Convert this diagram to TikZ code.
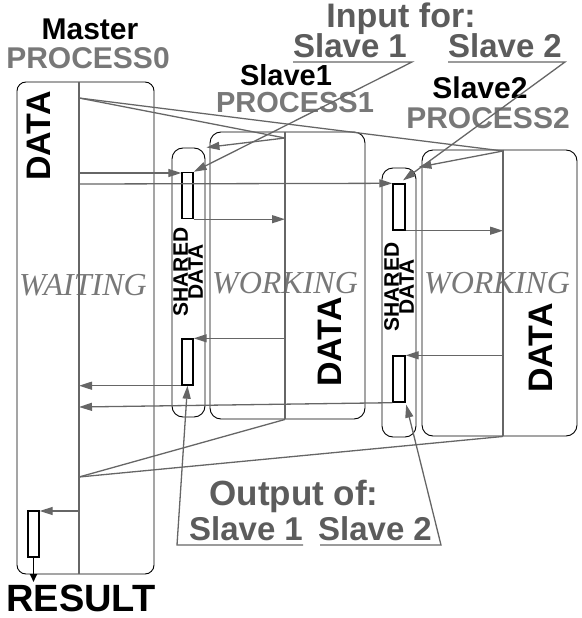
\documentclass[tikz,border=0pt]{standalone}
\usepackage{fontspec}
\setmainfont{Liberation Serif}
\setsansfont{Liberation Sans}
\usetikzlibrary{arrows.meta}

\definecolor{wire}{gray}{0.40}
\definecolor{proc}{gray}{0.47}
\definecolor{note}{gray}{0.36}

\begin{document}
\begin{tikzpicture}[x=1pt,y=-1pt,
  box/.style={draw,line width=0.9pt,inner sep=0pt},
  buf/.style={draw,fill=white,line width=1.4pt,inner sep=0pt,minimum width=11pt,minimum height=46pt},
  wire/.style={draw=wire,line width=1.3pt},
  arr/.style={wire,-{Triangle[length=13pt,width=8pt]}},
  txt/.style={inner sep=0pt,anchor=base,font=\sffamily\bfseries\fontsize{#1}{#1}\selectfont},
  state/.style={inner sep=0pt,anchor=base,text=proc,font=\itshape\fontsize{32}{32}\selectfont},
  bigdata/.style={inner sep=0pt,rotate=90,font=\sffamily\bfseries\fontsize{34}{34}\selectfont},
  shared/.style={inner sep=0pt,rotate=90,align=center,font=\sffamily\bfseries\fontsize{21}{15}\selectfont}]
\useasboundingbox (0,0) rectangle (581,618);

% master
\node[box,rounded corners=9pt,minimum width=137pt,minimum height=492pt] (master) at (85.5,328) {};
\node[txt=30] at (90,40) {Master};
\node[txt=30,text=proc] at (88,69) {PROCESS0};
\node[bigdata] at (38.5,136) {DATA};
\node[state] at (83,295) {WAITING};

% slave 1
\node[box,rounded corners=11pt,minimum width=33pt,minimum height=269pt] (s1sh) at (188.5,282.5) {};
\node[box,rounded corners=11pt,minimum width=155pt,minimum height=287pt] (s1box) at (287.5,275.5) {};
\node[buf] (s1in) at (187.5,195.5) {};
\node[buf] (s1out) at (187.5,362) {};
\node[shared] at (188,272) {SHARED\\DATA};
\node[txt=29] at (286,85) {Slave1};
\node[txt=29,text=proc] at (295,112) {PROCESS1};
\node[state] at (285,293) {WORKING};
\node[bigdata] at (330,342) {DATA};

% slave 2
\node[box,rounded corners=11pt,minimum width=34pt,minimum height=269pt] (s2sh) at (399,302.5) {};
\node[box,rounded corners=11pt,minimum width=155pt,minimum height=286pt] (s2box) at (499.5,293) {};
\node[buf,minimum width=12pt] (s2in) at (399,207) {};
\node[buf,minimum width=12pt] (s2out) at (399,379) {};
\node[shared] at (399,287) {SHARED\\DATA};
\node[txt=30] at (480,98) {Slave2};
\node[txt=30,text=proc] at (488,128) {PROCESS2};
\node[state] at (497,293) {WORKING};
\node[bigdata] at (541,348) {DATA};

% dividers
\coordinate (d0) at (79,0);
\coordinate (t1) at (285,138);
\coordinate (t2) at (503,151);
\draw[wire] (master.north -| d0) -- (master.south -| d0);
\draw[wire] (s1box.north -| t1) -- (s1box.south -| t1);
\draw[wire] (s2box.north -| t2) -- (s2box.south -| t2);

% data out of the master
\coordinate (jin) at (79,98);
\draw[wire] (jin) -- (t1);
\draw[wire] (jin) -- (t2);
\draw[arr,shorten >=1pt] (t1) -- (s1sh.north east);
\draw[arr,shorten >=2pt] (t2) -- (s2sh.north east);
\coordinate (a1) at (79,173);
\coordinate (a2) at (79,184);
\draw[arr] (a1) -- (a1 -| s1in.west);
\draw[arr] (a2) -- (s2in.north west);

% work inside the slaves
\draw[arr] (s1in.south east) -- (s1in.south east -| t1);
\draw[arr] (s2in.south east) -- (s2in.south east -| t2);
\draw[arr] (s1out.north east -| t1) -- (s1out.north east);
\draw[arr] (s2out.north east -| t2) -- (s2out.north east);

% back to the master
\coordinate (b2) at (79,407);
\coordinate (jout) at (79,477);
\draw[arr] (s1out.south west) -- (s1out.south west -| d0);
\draw[arr] (s2out.south west) -- (b2);
\draw[wire] (s1box.south -| t1) -- (jout);
\draw[wire] (s2box.south -| t2) -- (jout);

% result
\node[buf] (res) at (33.5,534) {};
\coordinate (c0) at (79,511);
\coordinate (r0) at (33.5,582);
\draw[arr] (c0) -- (c0 -| res.east);
\draw[line width=1.8pt,-{Triangle[length=8pt,width=7pt]}] (res.south) -- (r0);
\node[txt=38] at (81,611) {RESULT};

% input labels
\node[txt=34,text=note] at (401,28) {Input for:};
\node[txt=33,text=note] at (350,57) {Slave 1};
\node[txt=33,text=note] at (505,57) {Slave 2};
\coordinate (il1) at (293,62);
\coordinate (ir1) at (412,62);
\coordinate (il2) at (448,62);
\coordinate (ir2) at (565,62);
\draw[arr] (il1) -- (ir1) -- (s1in.north east);
\draw[arr,shorten >=5pt] (il2) -- (ir2) -- (s2in.north);

% output labels
\node[txt=35,text=note] at (294,505) {Output of:};
\node[txt=33,text=note] at (246,540) {Slave 1};
\node[txt=33,text=note] at (375,540) {Slave 2};
\coordinate (ol1) at (177,545);
\coordinate (or1) at (303,545);
\coordinate (ol2) at (320,545);
\coordinate (or2) at (441,545);
\draw[arr] (or1) -- (ol1) -- (s1out.south);
\draw[arr,shorten >=2pt] (ol2) -- (or2) -- (s2out.south east);
\end{tikzpicture}
\end{document}
